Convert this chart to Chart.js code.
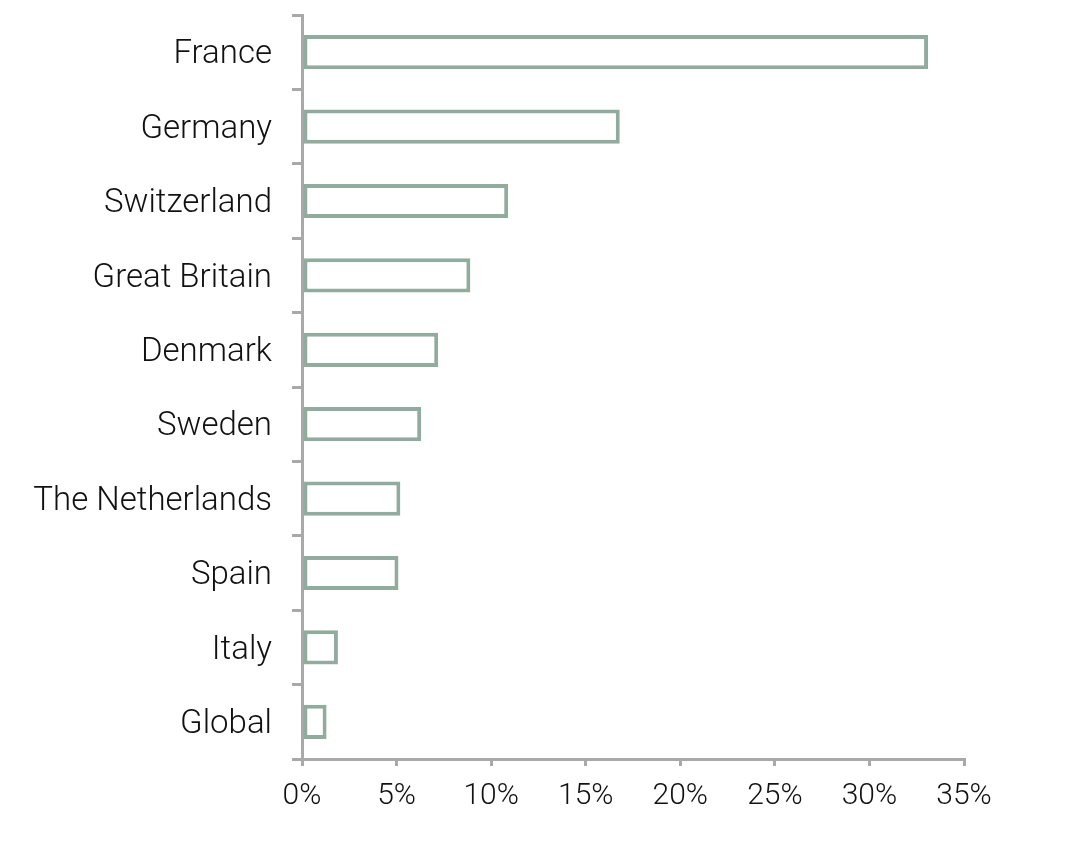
<!DOCTYPE html>
<html>
<head>
<meta charset="utf-8">
<script src="https://cdn.jsdelivr.net/npm/chart.js@4.4.1/dist/chart.umd.min.js"></script>
<style>
html,body{margin:0;padding:0;background:#fff;}
#wrap{width:1076px;height:853px;position:relative;}
</style>
</head>
<body>
<div id="wrap"><canvas id="c" width="1076" height="853"></canvas></div>
<script>
const categories = ["France","Germany","Switzerland","Great Britain","Denmark","Sweden","The Netherlands","Spain","Italy","Global"];
const values = [33.1, 16.8, 10.9, 8.9, 7.2, 6.3, 5.2, 5.1, 1.9, 1.3];
const xTicks = [0,5,10,15,20,25,30,35];

const barColor = '#92ab9f';
const axisColor = '#a9a9a9';
const fontFamily = 'Roboto, "Liberation Sans", sans-serif';

new Chart(document.getElementById('c'), {
  type: 'bar',
  data: {
    labels: categories,
    datasets: [{
      data: values,
      backgroundColor: '#ffffff',
      borderColor: barColor,
      borderWidth: 4,
      borderSkipped: false,
      barPercentage: 0.46,
      categoryPercentage: 1
    }]
  },
  options: {
    indexAxis: 'y',
    responsive: false,
    animation: false,
    devicePixelRatio: 1,
    layout: { padding: { top: 15, right: 112, left: 0, bottom: 0 } },
    plugins: { legend: { display: false }, tooltip: { enabled: false } },
    scales: {
      y: {
        grid: { display: true, drawOnChartArea: false, drawTicks: true, tickLength: 10, color: axisColor, lineWidth: 3, offset: true },
        border: { display: true, color: axisColor, width: 3 },
        ticks: { color: '#111', font: { family: fontFamily, size: 33, weight: 300 }, padding: 20, labelOffset: 3 },
        afterFit: (s) => { s.width = 302; s.paddingTop = 0; s.paddingBottom = 0; }
      },
      x: {
        min: 0, max: 35,
        afterBuildTicks: (s) => { s.ticks = xTicks.map(v => ({ value: v })); },
        grid: { display: true, drawOnChartArea: false, drawTicks: true, tickLength: 7, color: axisColor, lineWidth: 3 },
        border: { display: true, color: axisColor, width: 3 },
        ticks: { color: '#111', font: { family: fontFamily, size: 30, weight: 300 }, padding: 12, maxRotation: 0, callback: (v) => v + '%' },
        afterFit: (s) => { s.height = 94; s.paddingLeft = 0; s.paddingRight = 0; }
      }
    }
  }
});
</script>
</body>
</html>
